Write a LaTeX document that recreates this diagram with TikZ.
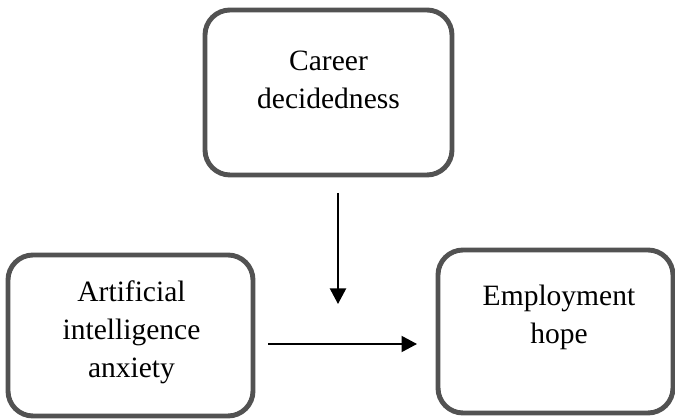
\documentclass[tikz,border=0pt]{standalone}
\usepackage{fontspec}
\setmainfont{Liberation Serif}
\usetikzlibrary{arrows.meta}
\tikzset{
  box/.style={draw=black!68, line width=2.8pt, rounded corners=0.5cm},
  txt/.style={align=center, font=\fontsize{16.8}{21.6}\selectfont},
  link/.style={line width=1.1pt, -{Triangle[length=0.31cm, width=0.32cm]}}
}
\begin{document}
\begin{tikzpicture}
  \useasboundingbox (0, 0) rectangle (13.5, -8.38);
  % boxes
  \node [box, minimum width=4.94cm, minimum height=3.3cm] (career) at (6.57, -1.85) {};
  \node [box, minimum width=4.9cm, minimum height=3.22cm] (anxiety) at (2.61, -6.71) {};
  \node [box, minimum width=4.7cm, minimum height=3.26cm] (hope) at (11.11, -6.63) {};
  \node [txt] (careertxt) at (6.57, -1.6) {Career\\decidedness};
  \node [txt] (anxietytxt) at (2.63, -6.64) {Artificial\\intelligence\\anxiety};
  \node [txt] (hopetxt) at (11.18, -6.35) {Employment\\hope};
  % arrows
  \coordinate (modtop) at (6.76, -3.86);
  \coordinate (modend) at (6.76, -6.08);
  \coordinate (pathstart) at (5.36, -6.88);
  \coordinate (pathend) at (8.34, -6.88);
  \draw [link] (modtop) -- (modend);
  \draw [link] (pathstart) -- (pathend);
\end{tikzpicture}
\end{document}
